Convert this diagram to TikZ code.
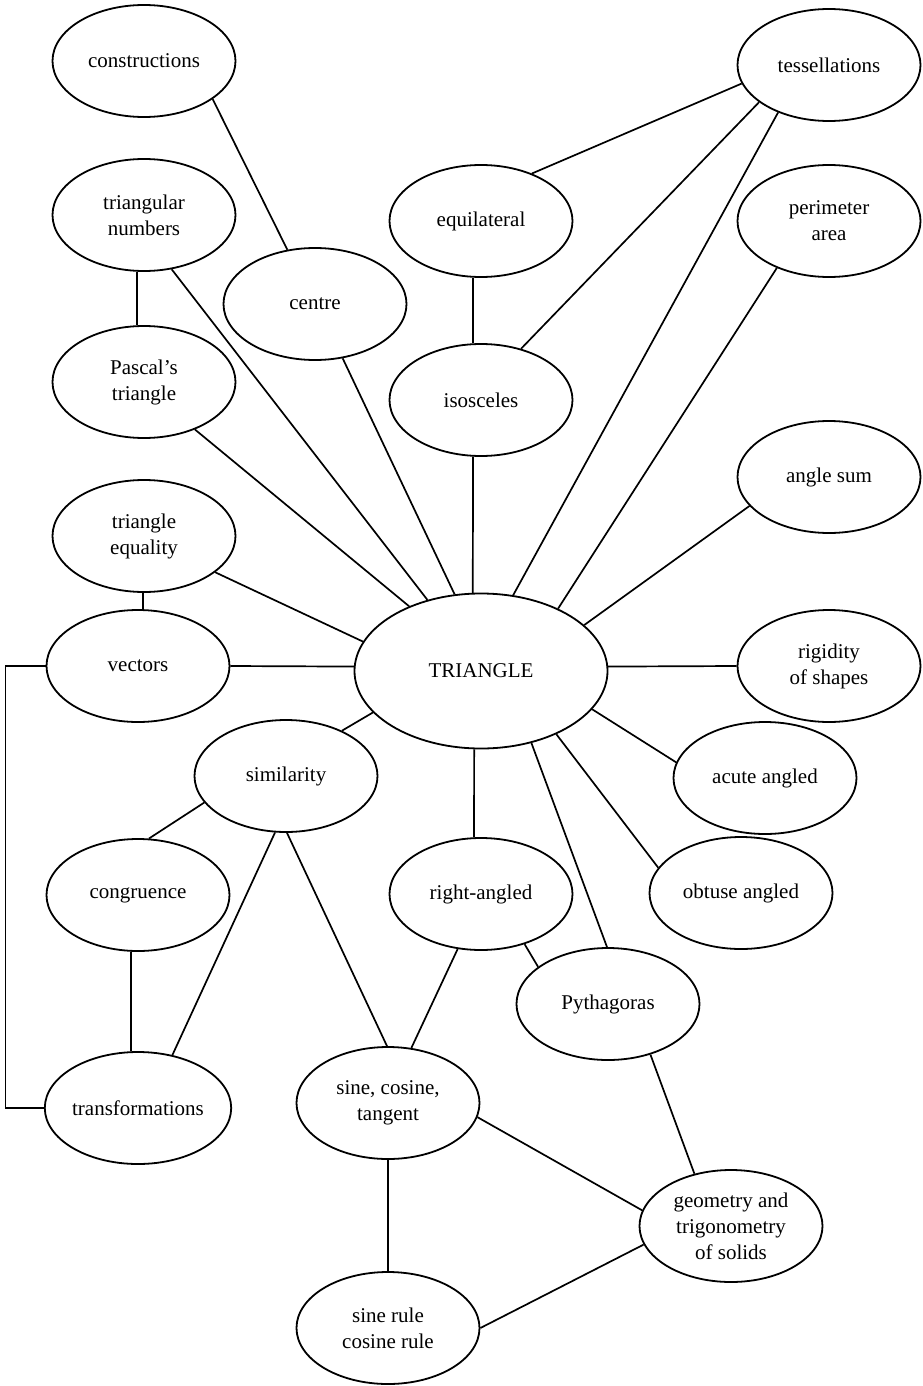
\documentclass[tikz,border=0pt]{standalone}
\usepackage{fontspec}
\setmainfont{Liberation Serif}
\usetikzlibrary{shapes.geometric}

\begin{document}
\begin{tikzpicture}[x=1pt, y=-1pt,
  topic/.style={ellipse, draw, line width=1.8pt, minimum width=183pt, minimum height=112pt, inner sep=0pt, align=center, font=\fontsize{21}{26}\selectfont},
  hub/.style={topic, minimum width=253pt, minimum height=155pt},
  link/.style={line width=1.7pt}
]
  \useasboundingbox (0,0) rectangle (922,1386);

  % centre of the map
  \node[hub] (tri) at (481,671) {TRIANGLE};

  % upper part
  \node[topic] (constr) at (144,61) {constructions};
  \node[topic] (tess) at (829,65) {tessellations};
  \node[topic] (trinum) at (144,215) {triangular\\numbers};
  \node[topic] (equi) at (481,221) {equilateral};
  \node[topic] (perim) at (829,221) {perimeter\\area};
  \node[topic] (centre) at (315,304) {centre};
  \node[topic] (pascal) at (144,382) {Pascal's\\triangle};
  \node[topic] (isos) at (481,400) {isosceles};
  \node[topic] (anglesum) at (829,477) {angle sum};
  \node[topic] (trieq) at (144,536) {triangle\\equality};
  \node[topic] (vectors) at (138,666) {vectors};
  \node[topic] (rigid) at (829,666) {rigidity\\of shapes};

  % lower part
  \node[topic] (simil) at (286,776) {similarity};
  \node[topic] (acute) at (765,778) {acute angled};
  \node[topic] (congr) at (138,895) {congruence};
  \node[topic] (right) at (481,894) {right-angled};
  \node[topic] (obtuse) at (741,893) {obtuse angled};
  \node[topic] (pyth) at (608,1004) {Pythagoras};
  \node[topic] (transf) at (138,1108) {transformations};
  \node[topic] (sct) at (388,1103) {sine, cosine,\\tangent};
  \node[topic] (solids) at (731,1226) {geometry and\\trigonometry\\of solids};
  \node[topic] (rules) at (388,1328) {sine rule\\cosine rule};

  % links to TRIANGLE
  \draw[link] (trinum.-63) -- (tri.127);
  \draw[link] (pascal.-43) -- (tri.138);
  \draw[link] (centre.-63) -- (tri.109);
  \draw[link] (isos.-98) -- (tri.96);
  \draw[link] (tess.-137) -- (tri.67);
  \draw[link] (perim.-138) -- (tri.39);
  \draw[link] (anglesum.-160) -- (tri.24);
  \draw[link] (trieq.-27) -- (tri.166);
  \draw[link] (vectors.east) -- (tri.178);
  \draw[link] (rigid.west) -- (tri.2);
  \draw[link] (simil.39) -- (tri.-159);
  \draw[link] (acute.170) -- (tri.-19);
  \draw[link] (obtuse.163) -- (tri.-40);
  \draw[link] (pyth.91) -- (tri.-55);
  \draw[link] (right.97) -- (tri.-95);

  % other links
  \draw[link] (constr.-29) -- (centre.117);
  \draw[link] (trinum.-97) -- (pascal.97);
  \draw[link] (tess.192) -- (equi.43);
  \draw[link] (tess.-152) -- (isos.52);
  \draw[link] (equi.-98) -- (isos.98);
  \draw[link] (trieq.-91) -- (vectors.85);
  \draw[link] (simil.-162) -- (congr.79);
  \draw[link] (simil.-101) -- (transf.57);
  \draw[link] (simil.-89) -- (sct.91);
  \draw[link] (congr.-97) -- (transf.97);
  \draw[link] (right.-113) -- (sct.67);
  \draw[link] (right.-49) -- (pyth.152);
  \draw[link] (pyth.-50) -- (solids.125);
  \draw[link] (sct.-9) -- (solids.170);
  \draw[link] (sct.south) -- (rules.north);
  \draw[link] (rules.east) -- (solids.-168);
  \draw[link] (vectors.west) -- ++(-40,0) |- (transf.west);
\end{tikzpicture}
\end{document}
